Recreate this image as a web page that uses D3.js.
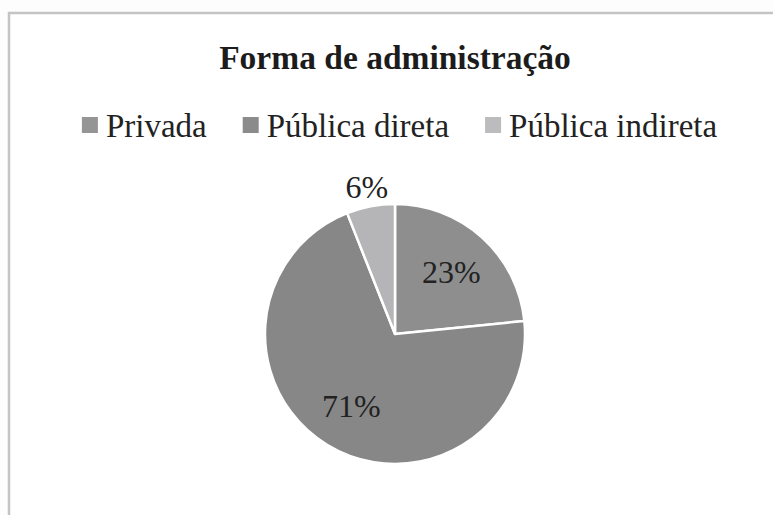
<!DOCTYPE html>
<html>
<head>
<meta charset="utf-8">
<script src="https://cdn.jsdelivr.net/npm/d3@7"></script>
<style>
  html, body { margin: 0; padding: 0; background: #fdfdfd; }
  svg { display: block; }
</style>
</head>
<body>
<svg id="chart" width="773" height="515"></svg>
<script>
const title = "Forma de administração";
const categories = ["Privada", "Pública direta", "Pública indireta"];
const values = [23.4, 70.6, 6.0];
const sliceColors = ["#8e8e8e", "#878787", "#b5b5b7"];
const legendColors = ["#959595", "#8b8b8b", "#bcbcbe"];

const W = 773, H = 515;
const svg = d3.select("#chart");
const font = "'Liberation Serif', 'Times New Roman', serif";

// frame
svg.append("rect").attr("x", 0).attr("y", 0).attr("width", W).attr("height", H).attr("fill", "#fdfdfd");
svg.append("rect").attr("x", 9).attr("y", 13).attr("width", 900).attr("height", 700)
  .attr("fill", "#ffffff").attr("stroke", "#c4c4c4").attr("stroke-width", 2.5);

// title
svg.append("text").attr("x", 395).attr("y", 69).attr("text-anchor", "middle")
  .attr("font-family", font).attr("font-weight", "bold").attr("font-size", 33.5)
  .attr("fill", "#1c1c1c").text(title);

// legend
const lg = svg.append("g");
const sq = 16, gapSqText = 8, gapItems = 36;
let x = 0;
categories.forEach((c, i) => {
  const g = lg.append("g");
  g.append("rect").attr("x", x).attr("y", 117).attr("width", sq).attr("height", sq)
    .attr("fill", legendColors[i]);
  const t = g.append("text").attr("x", x + sq + gapSqText).attr("y", 137)
    .attr("font-family", font).attr("font-size", 33).attr("fill", "#222").text(c);
  x += sq + gapSqText + t.node().getComputedTextLength() + gapItems;
});
const legendW = x - gapItems;
lg.attr("transform", `translate(${399.5 - legendW / 2},0)`);

// pie
const cx = 395, cy = 334, r = 130;
const pie = d3.pie().sort(null).value(d => d)(values);
const arc = d3.arc().innerRadius(0).outerRadius(r);
const pg = svg.append("g").attr("transform", `translate(${cx},${cy})`);
pg.selectAll("path").data(pie).join("path")
  .attr("d", arc)
  .attr("fill", (d, i) => sliceColors[i])
  .attr("stroke", "#ffffff").attr("stroke-width", 2.5).attr("stroke-linejoin", "round");

const inArc = d3.arc().innerRadius(84).outerRadius(84);
const outArc = d3.arc().innerRadius(150).outerRadius(150);
pg.selectAll("text.lbl").data(pie).join("text").attr("class", "lbl")
  .attr("transform", d => {
    const frac = (d.endAngle - d.startAngle) / (2 * Math.PI);
    const p = (frac < 0.1 ? outArc : inArc).centroid(d);
    return `translate(${p[0]},${p[1]})`;
  })
  .attr("dy", "0.35em")
  .attr("text-anchor", "middle")
  .attr("font-family", font).attr("font-size", 32).attr("fill", "#222")
  .text(d => Math.round(d.value) + "%");
</script>
</body>
</html>
